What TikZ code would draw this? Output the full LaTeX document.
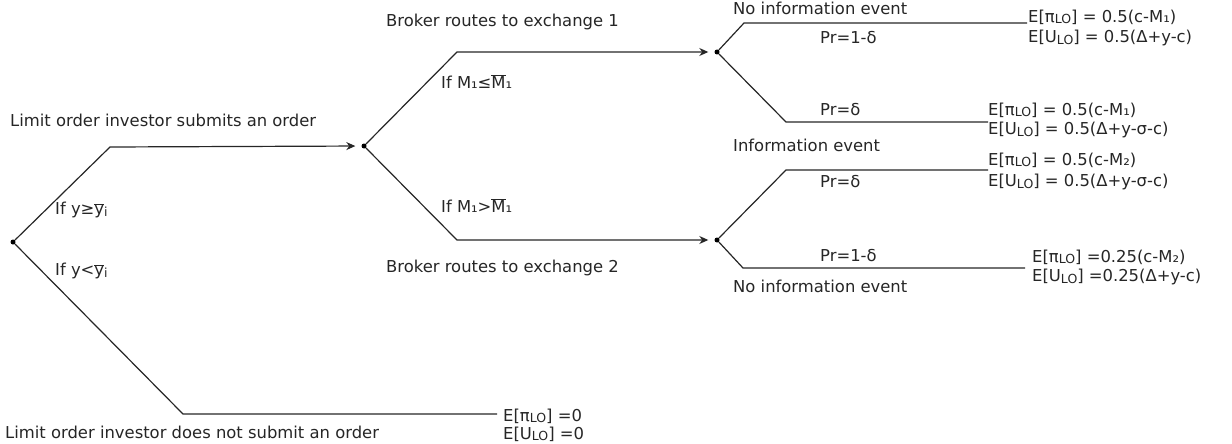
\documentclass[tikz,border=0pt]{standalone}
\usepackage{fontspec}
\setmainfont{DejaVu Sans}
\usetikzlibrary{arrows.meta}
\newcommand\ovl[1]{$\overline{\hbox{#1}}$}
\newcommand\sub[1]{\raisebox{-1.8pt}{\fontsize{12.5}{13}\selectfont #1}}
\begin{document}
\begin{tikzpicture}[x=1pt,y=-1pt,
  font=\fontsize{16.4}{18}\selectfont,
  line/.style={draw=black!85,line width=1.2pt},
  arr/.style={line,-{Stealth[length=9pt,width=8pt]},shorten >=6pt},
  dot/.style={circle,fill=black,inner sep=0pt,minimum size=5pt},
  lbl/.style={anchor=west,inner sep=0pt,text=black!85}]
\useasboundingbox (0,0) rectangle (1232,444);
% decision points
\node[dot] (root) at (13,242) {};
\node[dot] (n2) at (364,146) {};
\node[dot] (n3) at (717,52) {};
\node[dot] (n4) at (717,240) {};
% bends and ends
\coordinate (a1) at (110,147);
\coordinate (b1) at (183,414);
\coordinate (b2) at (497,414);
\coordinate (c1) at (457,52);
\coordinate (d1) at (457,240);
\coordinate (e1) at (744,23);  \coordinate (e2) at (1027,23);
\coordinate (f1) at (786,122); \coordinate (f2) at (988,122);
\coordinate (g1) at (786,170); \coordinate (g2) at (988,170);
\coordinate (h1) at (743,268); \coordinate (h2) at (1025,268);
% connectors
\draw[arr] (root) -- (a1) -- (n2);
\draw[line] (root) -- (b1) -- (b2);
\draw[arr] (n2) -- (c1) -- (n3);
\draw[arr] (n2) -- (d1) -- (n4);
\draw[line] (n3) -- (e1) -- (e2);
\draw[line] (n3) -- (f1) -- (f2);
\draw[line] (n4) -- (g1) -- (g2);
\draw[line] (n4) -- (h1) -- (h2);
% labels
\node[lbl] (t1) at (10,120) {Limit order investor submits an order};
\node[lbl] (t2) at (55,210) {If y≥\ovl{y}\sub{i}};
\node[lbl] (t3) at (55,271) {If y<\ovl{y}\sub{i}};
\node[lbl] (t4) at (5,432) {Limit order investor does not submit an order};
\node[lbl] (t5) at (503,416) {E[π\sub{LO}] =0};
\node[lbl] (t6) at (503,434) {E[U\sub{LO}] =0};
\node[lbl] (t7) at (386,22) {Broker routes to exchange 1};
\node[lbl] (t8) at (441,82) {If M₁≤\ovl{M}₁};
\node[lbl] (t9) at (441,206) {If M₁>\ovl{M}₁};
\node[lbl] (t10) at (386,268) {Broker routes to exchange 2};
\node[lbl] (t11) at (733,8) {No information event};
\node[lbl] (t12) at (820,38) {Pr=1-δ};
\node[lbl] (t13) at (820,110) {Pr=δ};
\node[lbl] (t14) at (733,145) {Information event};
\node[lbl] (t15) at (820,182) {Pr=δ};
\node[lbl] (t16) at (820,256) {Pr=1-δ};
\node[lbl] (t17) at (733,286) {No information event};
\node[lbl] (t18) at (1028,17) {E[π\sub{LO}] = 0.5(c-M₁)};
\node[lbl] (t19) at (1028,38) {E[U\sub{LO}] = 0.5(Δ+y-c)};
\node[lbl] (t20) at (988,110) {E[π\sub{LO}] = 0.5(c-M₁)};
\node[lbl] (t21) at (988,130) {E[U\sub{LO}] = 0.5(Δ+y-σ-c)};
\node[lbl] (t22) at (988,160) {E[π\sub{LO}] = 0.5(c-M₂)};
\node[lbl] (t23) at (988,182) {E[U\sub{LO}] = 0.5(Δ+y-σ-c)};
\node[lbl] (t24) at (1032,257) {E[π\sub{LO}] =0.25(c-M₂)};
\node[lbl] (t25) at (1032,277) {E[U\sub{LO}] =0.25(Δ+y-c)};
\end{tikzpicture}
\end{document}
